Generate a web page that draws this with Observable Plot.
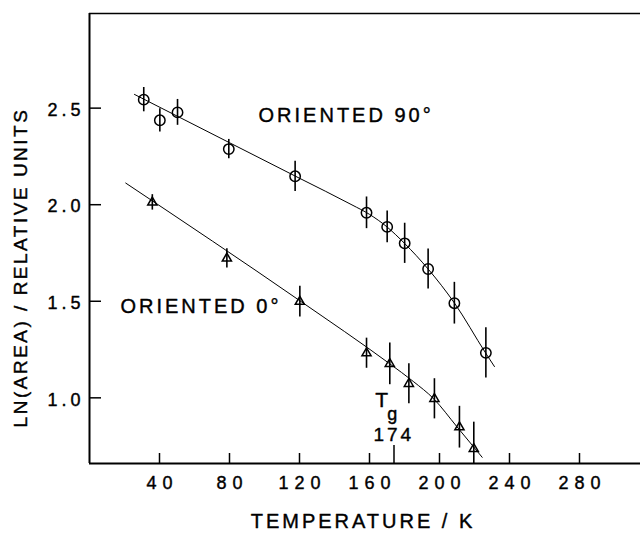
<!DOCTYPE html>
<html><head><meta charset="utf-8">
<script src="https://cdn.jsdelivr.net/npm/d3@7"></script>
<script src="https://cdn.jsdelivr.net/npm/@observablehq/plot@0.6"></script>
<style>
body{margin:0;background:#fff;}
text[aria-label="x-tick-labels"]{letter-spacing:6px;}
text[aria-label="y-tick-labels"]{letter-spacing:4px;}
text[aria-label="series-labels"]{letter-spacing:3px;}
text[aria-label="tg-value"]{letter-spacing:3px;}
text[aria-label="x-title"]{letter-spacing:3px;}
text[aria-label="y-title"]{letter-spacing:2.5px;}
</style></head>
<body><div id="chart"></div>
<script>
// Axis ranges and ticks
const xDomain = [0, 314.86];
const yDomain = [0.66, 2.99];
const xTickValues = [40, 80, 120, 160, 200, 240, 280];
const yTickValues = [1.0, 1.5, 2.0, 2.5];
const tgValue = 174;

// Oriented 90 degrees (circles): temperature, ln(area), error half-width
const temps90 = [31, 40.2, 50.3, 79.6, 117.5, 158.3, 170.1, 180.1, 193.5, 208.5, 226.5];
const vals90  = [2.544, 2.437, 2.478, 2.288, 2.147, 1.958, 1.885, 1.80, 1.667, 1.49, 1.233];
const errs90  = [0.063, 0.06, 0.067, 0.05, 0.078, 0.082, 0.082, 0.104, 0.104, 0.108, 0.13];

// Oriented 0 degrees (triangles)
const temps0 = [35.9, 78.5, 120.2, 158.3, 171.6, 182.5, 197.1, 211.4, 219.6];
const vals0  = [2.012, 1.722, 1.498, 1.231, 1.176, 1.073, 0.995, 0.848, 0.736];
const errs0  = [0.04, 0.05, 0.08, 0.078, 0.108, 0.104, 0.104, 0.108, 0.138];

// Fitted curves as drawn
const fit90T = [25.7, 80, 120, 150, 160, 170, 180, 193.5, 208.6, 226.3, 231.4];
const fit90V = [2.571, 2.321, 2.137, 1.999, 1.95, 1.885, 1.80, 1.667, 1.49, 1.233, 1.162];
const fit0T  = [20.7, 120, 171.6, 185, 196.7, 210, 224.4];
const fit0V  = [2.112, 1.504, 1.176, 1.085, 0.995, 0.85, 0.692];

// Labels
const seriesLabels = ["ORIENTED 90°", "ORIENTED 0°"];
const seriesLabelT = [96.6, 17.7];
const seriesLabelV = [2.462, 1.47];
const xTitle = "TEMPERATURE / K";
const yTitle = "LN(AREA) / RELATIVE UNITS";

const pts90 = temps90.map((t, i) => ({t, v: vals90[i], e: errs90[i]}));
const pts0 = temps0.map((t, i) => ({t, v: vals0[i], e: errs0[i]}));
const fit90 = fit90T.map((t, i) => ({t, v: fit90V[i]}));
const fit0 = fit0T.map((t, i) => ({t, v: fit0V[i]}));
const labels = seriesLabels.map((s, i) => ({s, t: seriesLabelT[i], v: seriesLabelV[i]}));
const tag = name => () => name;
const ink = {fill: "black", stroke: "black", strokeWidth: 0.4};

const chart = Plot.plot({
  width: 640, height: 538,
  marginLeft: 89, marginRight: 0, marginTop: 13, marginBottom: 75,
  x: {domain: xDomain, axis: null},
  y: {domain: yDomain, axis: null},
  style: {fontFamily: "'Liberation Sans', Arial, sans-serif", color: "black", background: "white"},
  marks: [
    Plot.ruleX([xDomain[0]], {strokeWidth: 2}),
    Plot.ruleY([yDomain[0]], {strokeWidth: 2}),
    Plot.ruleY([yDomain[1]], {strokeWidth: 1.5}),
    Plot.tickX(xTickValues, {x: d => d, insetTop: 440, strokeWidth: 1.5}),
    Plot.tickX([tgValue], {x: d => d, insetTop: 432, strokeWidth: 1.5}),
    Plot.tickY(yTickValues, {y: d => d, insetRight: 539, strokeWidth: 1.5}),
    Plot.text(xTickValues, {x: d => d, frameAnchor: "bottom", dy: 25, dx: 3, fontSize: 18, text: d => String(d), ariaLabel: tag("x-tick-labels"), ...ink}),
    Plot.text(yTickValues, {y: d => d, frameAnchor: "left", dx: -5, dy: 2, textAnchor: "end", fontSize: 18, text: d => d.toFixed(1), ariaLabel: tag("y-tick-labels"), ...ink}),
    // error bars
    Plot.ruleX(pts90, {x: "t", y1: d => d.v - d.e, y2: d => d.v + d.e, strokeWidth: 1.6}),
    Plot.ruleX(pts0, {x: "t", y1: d => d.v - d.e, y2: d => d.v + d.e, strokeWidth: 1.6, clip: true}),
    // fitted lines
    Plot.line(fit90, {x: "t", y: "v", curve: "monotone-x", strokeWidth: 1}),
    Plot.line(fit0, {x: "t", y: "v", curve: "monotone-x", strokeWidth: 1}),
    // markers
    Plot.dot(pts90, {x: "t", y: "v", r: 5.2, stroke: "black", fill: "none", strokeWidth: 1.5}),
    Plot.dot(pts0, {x: "t", y: "v", symbol: "triangle", r: 3.4, stroke: "black", fill: "none", strokeWidth: 1.5}),
    // series labels
    Plot.text(labels, {x: "t", y: "v", text: "s", textAnchor: "start", fontSize: 20, ariaLabel: tag("series-labels"), ...ink}),
    // Tg annotation
    Plot.text(["T"], {x: 167, y: 0.99, text: d => d, fontSize: 21, ...ink}),
    Plot.text(["g"], {x: 173, y: 0.915, text: d => d, fontSize: 18, ...ink}),
    Plot.text([tgValue], {x: 173, y: 0.81, text: d => String(d), fontSize: 19, dx: 1.5, ariaLabel: tag("tg-value"), ...ink}),
    // axis titles
    Plot.text([xTitle], {frameAnchor: "bottom", dy: 64, dx: -2, fontSize: 20, text: d => d, ariaLabel: tag("x-title"), ...ink}),
    Plot.text([yTitle], {frameAnchor: "left", dx: -69, dy: 29, rotate: -90, textAnchor: "middle", fontSize: 19, text: d => d, ariaLabel: tag("y-title"), ...ink})
  ]
});
document.getElementById("chart").appendChild(chart);
</script></body></html>
